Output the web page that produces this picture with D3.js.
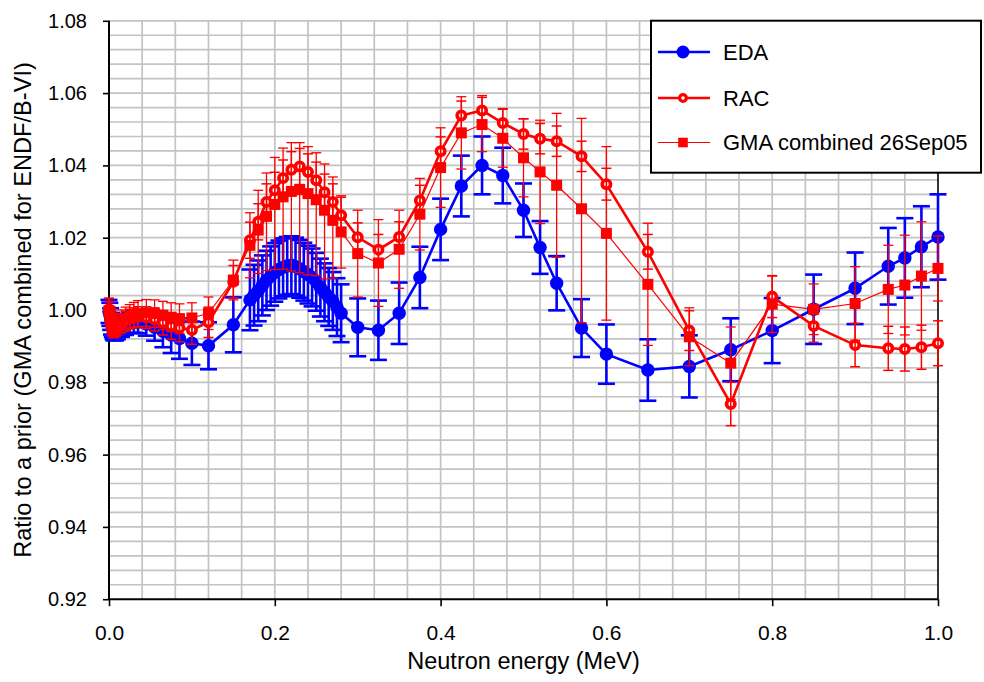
<!DOCTYPE html>
<html>
<head>
<meta charset="utf-8">
<script src="https://cdn.jsdelivr.net/npm/d3@7"></script>
<style>
  html, body { margin: 0; padding: 0; background: #fff; }
  svg { display: block; }
  text { font-family: "Liberation Sans", Arial, sans-serif; fill: #000; }
</style>
</head>
<body>
<svg id="chart" width="984" height="682"></svg>
<script>
// Neutron energies (MeV), ratios to the prior and uncertainties
const edaEnergy = [2.53e-8, 0.001, 0.002, 0.003, 0.004, 0.005, 0.006, 0.008, 0.01, 0.015, 0.02, 0.025, 0.03, 0.035, 0.045, 0.055, 0.065, 0.075, 0.085, 0.1, 0.12, 0.15,
  0.17, 0.175, 0.18, 0.185, 0.19, 0.195, 0.2, 0.205, 0.21, 0.215, 0.22, 0.225, 0.23, 0.235, 0.24, 0.245, 0.25, 0.255, 0.26, 0.265, 0.27, 0.275, 0.28,
  0.3, 0.325, 0.35, 0.375, 0.4, 0.425, 0.45, 0.475, 0.5, 0.52, 0.54, 0.57, 0.6, 0.65, 0.7, 0.75, 0.8, 0.85, 0.9, 0.94, 0.96, 0.98, 1.0];
const edaRatio = [0.9996, 0.9988, 0.9975, 0.9962, 0.9953, 0.9947, 0.9944, 0.9944, 0.9947, 0.9954, 0.9960, 0.9965, 0.9967, 0.9966, 0.9961, 0.9952, 0.9941, 0.9931, 0.9921, 0.9908, 0.9901, 0.9959,
  1.0028, 1.0041, 1.0053, 1.0068, 1.0082, 1.0094, 1.0104, 1.0112, 1.0118, 1.0122, 1.0124, 1.0120, 1.0114, 1.0106, 1.0098, 1.0090, 1.0078, 1.0062, 1.0049, 1.0036, 1.0025, 1.0008, 0.9991,
  0.9952, 0.9944, 0.9991, 1.0090, 1.0223, 1.0343, 1.0400, 1.0372, 1.0276, 1.0173, 1.0074, 0.9950, 0.9878, 0.9834, 0.9844, 0.9890, 0.9943, 1.0002, 1.0060, 1.0121, 1.0144, 1.0175, 1.0202];
const edaError = [0.0032, 0.0032, 0.0030, 0.0030, 0.0028, 0.0028, 0.0028, 0.0028, 0.0028, 0.0028, 0.0029, 0.0029, 0.0030, 0.0030, 0.0032, 0.0037, 0.0044, 0.0050, 0.0056, 0.0060, 0.0065, 0.0076,
  0.0084, 0.0084, 0.0084, 0.0083, 0.0082, 0.0082, 0.0081, 0.0080, 0.0080, 0.0080, 0.0080, 0.0080, 0.0080, 0.0080, 0.0080, 0.0080, 0.0080, 0.0080, 0.0080, 0.0080, 0.0080, 0.0080, 0.0080,
  0.0080, 0.0082, 0.0085, 0.0085, 0.0085, 0.0084, 0.0080, 0.0077, 0.0074, 0.0073, 0.0075, 0.0080, 0.0082, 0.0085, 0.0086, 0.0087, 0.0090, 0.0096, 0.0099, 0.0106, 0.0110, 0.0112, 0.0118];

const racEnergy = [2.53e-8, 0.001, 0.002, 0.003, 0.004, 0.005, 0.006, 0.008, 0.01, 0.015, 0.02, 0.025, 0.03, 0.035, 0.045, 0.055, 0.065, 0.075, 0.085, 0.1, 0.12, 0.15,
  0.17, 0.18, 0.19, 0.2, 0.21, 0.22, 0.23, 0.24, 0.25, 0.26, 0.27, 0.28,
  0.3, 0.325, 0.35, 0.375, 0.4, 0.425, 0.45, 0.475, 0.5, 0.52, 0.54, 0.57, 0.6, 0.65, 0.7, 0.75, 0.8, 0.85, 0.9, 0.94, 0.96, 0.98, 1.0];
const racRatio = [1.0002, 0.9992, 0.9978, 0.9965, 0.9957, 0.9952, 0.9951, 0.9953, 0.9957, 0.9964, 0.9971, 0.9976, 0.9979, 0.9981, 0.9979, 0.9974, 0.9965, 0.9955, 0.9950, 0.9945, 0.9966, 1.0078,
  1.0193, 1.0244, 1.0299, 1.0331, 1.0365, 1.0388, 1.0397, 1.0382, 1.0359, 1.0326, 1.0299, 1.0262,
  1.0201, 1.0167, 1.0202, 1.0303, 1.0439, 1.0538, 1.0552, 1.0517, 1.0487, 1.0474, 1.0467, 1.0425, 1.0348, 1.0161, 0.9943, 0.9740, 1.0037, 0.9956, 0.9903, 0.9894, 0.9892, 0.9897, 0.9908];
const racError = [0.0030, 0.0030, 0.0028, 0.0026, 0.0024, 0.0022, 0.0022, 0.0022, 0.0022, 0.0025, 0.0025, 0.0026, 0.0027, 0.0028, 0.0030, 0.0032, 0.0034, 0.0036, 0.0038, 0.0040, 0.0042, 0.0045,
  0.0050, 0.0050, 0.0050, 0.0050, 0.0050, 0.0050, 0.0050, 0.0050, 0.0050, 0.0050, 0.0050, 0.0050,
  0.0040, 0.0042, 0.0042, 0.0042, 0.0040, 0.0040, 0.0041, 0.0040, 0.0042, 0.0042, 0.0042, 0.0042, 0.0044, 0.0048, 0.0055, 0.0060, 0.0058, 0.0045, 0.0060, 0.0061, 0.0061, 0.0061, 0.0062];

const gmaEnergy = racEnergy.slice();
const gmaRatio = [0.9998, 0.9990, 0.9977, 0.9965, 0.9958, 0.9954, 0.9953, 0.9956, 0.9960, 0.9968, 0.9975, 0.9981, 0.9986, 0.9990, 0.9992, 0.9990, 0.9985, 0.9980, 0.9976, 0.9978, 0.9991, 1.0083,
  1.0179, 1.0221, 1.0259, 1.0292, 1.0313, 1.0328, 1.0333, 1.0322, 1.0305, 1.0276, 1.0248, 1.0216,
  1.0156, 1.0130, 1.0168, 1.0265, 1.0394, 1.0490, 1.0513, 1.0475, 1.0421, 1.0382, 1.0345, 1.0280, 1.0212, 1.0071, 0.9926, 0.9853, 1.0016, 1.0002, 1.0018, 1.0057, 1.0069, 1.0094, 1.0115];
// upper and lower extents of the combined-fit error bars
const gmaErrorUp = [0.0035, 0.0034, 0.0032, 0.0030, 0.0030, 0.0030, 0.0030, 0.0030, 0.0030, 0.0032, 0.0033, 0.0034, 0.0035, 0.0036, 0.0037, 0.0038, 0.0039, 0.0040, 0.0041, 0.0042, 0.0045, 0.0055,
  0.0090, 0.0110, 0.0120, 0.0130, 0.0135, 0.0135, 0.0130, 0.0130, 0.0130, 0.0128, 0.0120, 0.0100,
  0.0120, 0.0120, 0.0108, 0.0099, 0.0110, 0.0100, 0.0075, 0.0080, 0.0108, 0.0143, 0.0199, 0.0250, 0.0240, 0.0169, 0.0080, 0.0100, 0.0078, 0.0070, 0.0102, 0.0122, 0.0138, 0.0150, 0.0090];
const gmaErrorDown = [0.0035, 0.0034, 0.0032, 0.0030, 0.0030, 0.0030, 0.0030, 0.0030, 0.0030, 0.0032, 0.0033, 0.0034, 0.0035, 0.0036, 0.0037, 0.0038, 0.0039, 0.0040, 0.0041, 0.0042, 0.0045, 0.0055,
  0.0090, 0.0120, 0.0150, 0.0180, 0.0200, 0.0220, 0.0230, 0.0225, 0.0210, 0.0190, 0.0160, 0.0100,
  0.0120, 0.0120, 0.0108, 0.0099, 0.0110, 0.0100, 0.0075, 0.0080, 0.0108, 0.0143, 0.0199, 0.0315, 0.0240, 0.0169, 0.0080, 0.0100, 0.0078, 0.0070, 0.0102, 0.0122, 0.0138, 0.0150, 0.0090];

const xTicks = [0, 0.2, 0.4, 0.6, 0.8, 1.0];
const yTicks = [0.92, 0.94, 0.96, 0.98, 1.00, 1.02, 1.04, 1.06, 1.08];
const legendLabels = ["EDA", "RAC", "GMA combined 26Sep05"];

const svg = d3.select("#chart");
const plot = { left: 109, right: 938, top: 20.8, bottom: 599.2 };

const x = d3.scaleLinear().domain([0, 1]).range([plot.left, plot.right]);
const y = d3.scaleLinear().domain([0.92, 1.08]).range([plot.bottom, plot.top]);

// light grid: every 0.04 MeV and every 0.004 in ratio
const grid = svg.append("g").attr("stroke", "#c3c3c3").attr("stroke-width", 1.7);
d3.range(1, 25).map(i => i * 0.04).forEach(v => {
  grid.append("line").attr("x1", x(v)).attr("x2", x(v)).attr("y1", plot.top).attr("y2", plot.bottom);
});
d3.range(1, 41).map(i => 0.92 + i * 0.004).forEach(v => {
  grid.append("line").attr("x1", plot.left).attr("x2", plot.right).attr("y1", y(v)).attr("y2", y(v));
});

// axes
const yAxis = svg.append("g").attr("transform", `translate(${plot.left},0)`)
  .call(d3.axisLeft(y).tickValues(yTicks).tickFormat(d3.format(".2f")).tickSize(6).tickPadding(16));
const xAxis = svg.append("g").attr("transform", `translate(0,${plot.bottom})`)
  .call(d3.axisBottom(x).tickValues(xTicks).tickFormat(d3.format(".1f")).tickSize(7).tickPadding(19));
[yAxis, xAxis].forEach(a => {
  a.select(".domain").remove();
  a.selectAll(".tick line").attr("stroke", "#000").attr("stroke-width", 1.6);
  a.selectAll(".tick text").style("font-size", "20px").style("font-family", "'Liberation Sans', Arial, sans-serif");
});
xAxis.selectAll(".tick text").style("font-size", "21px");
svg.append("line").attr("x1", plot.left).attr("x2", plot.left).attr("y1", plot.top).attr("y2", plot.bottom)
  .attr("stroke", "#000").attr("stroke-width", 2);
svg.append("line").attr("x1", plot.left).attr("x2", plot.right).attr("y1", plot.bottom).attr("y2", plot.bottom)
  .attr("stroke", "#000").attr("stroke-width", 2);
svg.append("line").attr("x1", plot.right).attr("x2", plot.right).attr("y1", plot.top).attr("y2", plot.bottom)
  .attr("stroke", "#000").attr("stroke-width", 1.6);

svg.append("text").attr("x", (plot.left + plot.right) / 2).attr("y", 669)
  .attr("text-anchor", "middle").style("font-size", "23.5px").text("Neutron energy (MeV)");
svg.append("text").attr("transform", `translate(31,${(plot.top + plot.bottom) / 2}) rotate(-90)`)
  .attr("text-anchor", "middle").style("font-size", "23.6px").text("Ratio to a prior (GMA combined for ENDF/B-VI)");

function series(energy, ratio, up, down) {
  return energy.map((e, i) => ({ e, v: ratio[i], up: up[i], down: down[i] }));
}
const eda = series(edaEnergy, edaRatio, edaError, edaError);
const rac = series(racEnergy, racRatio, racError, racError);
const gma = series(gmaEnergy, gmaRatio, gmaErrorUp, gmaErrorDown);

const line = d3.line().x(d => x(d.e)).y(d => y(d.v));

function errorBars(g, data, color, width, capHalf) {
  const eb = g.append("g").attr("stroke", color).attr("stroke-width", width);
  data.forEach(d => {
    const cx = x(d.e), y1 = y(d.v - d.down), y2 = y(d.v + d.up);
    eb.append("line").attr("x1", cx).attr("x2", cx).attr("y1", y1).attr("y2", y2);
    eb.append("line").attr("x1", cx - capHalf).attr("x2", cx + capHalf).attr("y1", y1).attr("y2", y1);
    eb.append("line").attr("x1", cx - capHalf).attr("x2", cx + capHalf).attr("y1", y2).attr("y2", y2);
  });
}

// EDA
const gEda = svg.append("g");
gEda.append("path").datum(eda).attr("d", line).attr("fill", "none").attr("stroke", "#0000ff").attr("stroke-width", 2.6);
gEda.selectAll("circle").data(eda).join("circle")
  .attr("cx", d => x(d.e)).attr("cy", d => y(d.v)).attr("r", 6.7).attr("fill", "#0000ff");
errorBars(gEda, eda, "#0000ff", 2.6, 8.5);

// RAC
const gRac = svg.append("g");
gRac.append("path").datum(rac).attr("d", line).attr("fill", "none").attr("stroke", "#ff0000").attr("stroke-width", 2.6);
gRac.selectAll("circle").data(rac).join("circle")
  .attr("cx", d => x(d.e)).attr("cy", d => y(d.v)).attr("r", 4.2)
  .attr("fill", "#fff").attr("stroke", "#ff0000").attr("stroke-width", 3.6);
errorBars(gRac, rac, "#ff0000", 1.5, 5);

// GMA combined
const gGma = svg.append("g");
gGma.append("path").datum(gma).attr("d", line).attr("fill", "none").attr("stroke", "#ff0000").attr("stroke-width", 1.2);
errorBars(gGma, gma, "#ff0000", 1.3, 5);
gGma.selectAll("rect").data(gma).join("rect")
  .attr("x", d => x(d.e) - 5.5).attr("y", d => y(d.v) - 5.5).attr("width", 11).attr("height", 11).attr("fill", "#ff0000");

// legend
const lg = svg.append("g");
lg.append("rect").attr("x", 651).attr("y", 20.7).attr("width", 330).attr("height", 152)
  .attr("fill", "#fff").attr("stroke", "#000").attr("stroke-width", 2);
const rows = [52, 98, 142.5];
const lineW = [2.6, 2.6, 1.2];
legendLabels.forEach((lab, i) => {
  const color = i === 0 ? "#0000ff" : "#ff0000";
  lg.append("line").attr("x1", 658).attr("x2", 710).attr("y1", rows[i]).attr("y2", rows[i])
    .attr("stroke", color).attr("stroke-width", lineW[i]);
  if (i === 0) {
    lg.append("circle").attr("cx", 683).attr("cy", rows[i]).attr("r", 6.5).attr("fill", color);
  } else if (i === 1) {
    lg.append("circle").attr("cx", 683).attr("cy", rows[i]).attr("r", 3.4)
      .attr("fill", "#fff").attr("stroke", color).attr("stroke-width", 3.2);
  } else {
    lg.append("rect").attr("x", 683 - 4.8).attr("y", rows[i] - 4.8).attr("width", 9.6).attr("height", 9.6).attr("fill", color);
  }
  lg.append("text").attr("x", 723).attr("y", rows[i]).attr("dy", "0.36em")
    .style("font-size", "22px").text(lab);
});
</script>
</body>
</html>
